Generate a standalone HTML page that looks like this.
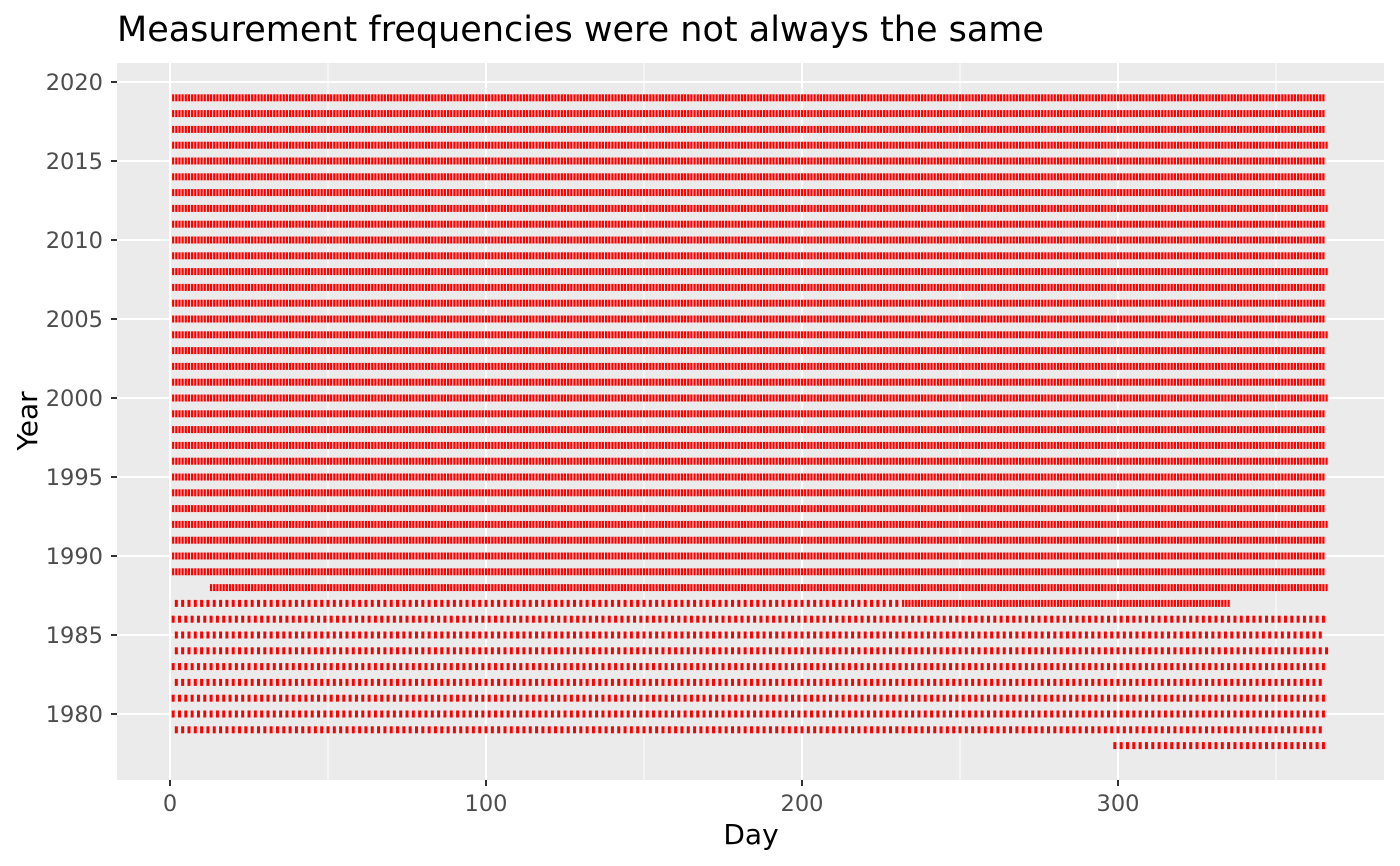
<!DOCTYPE html>
<html><head><meta charset="utf-8"><style>
body{margin:0;background:#fff;}
svg{display:block;font-family:"DejaVu Sans","Liberation Sans",sans-serif;}
</style></head><body>
<svg id="chart" width="1400" height="866" viewBox="0 0 1400 866">
<text x="117" y="41" font-size="35" fill="#000">Measurement frequencies were not always the same</text>
<rect x="117" y="63" width="1267" height="717" fill="#EBEBEB"/>
<g id="grid"></g>
<g id="marks"></g>
<g id="axes"></g>
<text x="751" y="844" font-size="28" text-anchor="middle" fill="#000">Day</text>
<text transform="translate(37,421) rotate(-90)" font-size="28" text-anchor="middle" fill="#000">Year</text>
</svg>
<script>
const xTicks=[0,100,200,300];
const xMinor=[50,150,250,350];
const yTicks=[1980,1985,1990,1995,2000,2005,2010,2015,2020];
// per-year measurement segments: [year, startDay, endDay, stepDays]
const segYears=[1978,1979,1980,1981,1982,1983,1984,1985,1986,1987,1987,1988];
const segStart=[299,2,1,1,2,1,2,2,1,2,232,13];
const segEnd=[366,364,365,365,364,365,366,364,365,231,335,366];
const segStep=[2,2,2,2,2,2,2,2,2,2,1,1];
const dailyFirstYear=1989, dailyLastYear=2019;

const NS="http://www.w3.org/2000/svg";
const X=d=>170+d*3.16;
const Y=y=>714-(y-1980)*15.8;
const grid=document.getElementById('grid'), marks=document.getElementById('marks'), axes=document.getElementById('axes');
function ln(g,x1,y1,x2,y2,c,w){const l=document.createElementNS(NS,'line');l.setAttribute('x1',x1);l.setAttribute('y1',y1);l.setAttribute('x2',x2);l.setAttribute('y2',y2);l.setAttribute('stroke',c);l.setAttribute('stroke-width',w);g.appendChild(l);return l;}
xMinor.forEach(v=>{const l=ln(grid,X(v),63,X(v),780,'#fff',1);

});
xTicks.forEach(v=>{const l=ln(grid,X(v),63,X(v),780,'#fff',2);


ln(axes,X(v),780,X(v),786,'#333',2);
const t=document.createElementNS(NS,'text');t.setAttribute('x',X(v));t.setAttribute('y',811);t.setAttribute('text-anchor','middle');t.setAttribute('font-size','22.5');t.setAttribute('fill','#4D4D4D');t.textContent=v;


axes.appendChild(t);});
yTicks.forEach(v=>{const l=ln(grid,117,Y(v),1384,Y(v),'#fff',2);


ln(axes,111,Y(v),117,Y(v),'#333',2);
const t=document.createElementNS(NS,'text');t.setAttribute('x',103);t.setAttribute('y',Y(v)+8);t.setAttribute('text-anchor','end');t.setAttribute('font-size','22.5');t.setAttribute('fill','#4D4D4D');t.textContent=v;


axes.appendChild(t);});
function addMark(year,day,w){const r=document.createElementNS(NS,'rect');r.setAttribute('x',(X(day)-w/2).toFixed(2));r.setAttribute('y',Y(year)-3.5);r.setAttribute('width',w);r.setAttribute('height',7);r.setAttribute('fill','#FF0000');


marks.appendChild(r);}
segYears.forEach((y,i)=>{for(let d=segStart[i];d<=segEnd[i];d+=segStep[i])addMark(y,d,segStep[i]===1?2.2:3);});
for(let y=dailyFirstYear;y<=dailyLastYear;y++){const n=(y%4===0)?366:365;for(let d=1;d<=n;d++)addMark(y,d,2.2);}
</script>
</body></html>
